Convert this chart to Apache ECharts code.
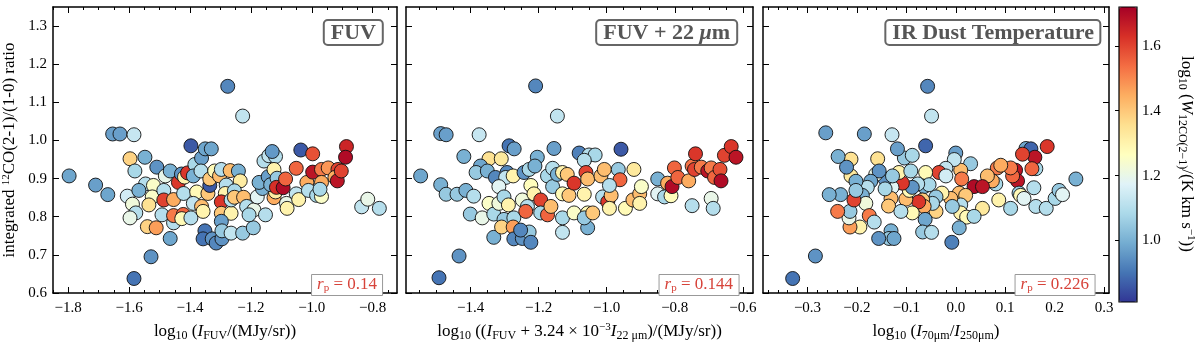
<!DOCTYPE html>
<html>
<head>
<meta charset="utf-8">
<script src="https://cdn.jsdelivr.net/npm/echarts@6/dist/echarts.min.js"></script>
<style>
html, body { margin:0; padding:0; background:#fff; }
#chart { width:1200px; height:347px; }
</style>
</head>
<body>
<div id="chart"></div>
<script>
// points: [x, CO ratio, log10 W(CO 2-1)]
var fuvPts = [
[-1.797,0.907,0.98],[-1.71,0.883,0.97],[-1.67,0.858,0.98],[-1.654,1.017,0.97],[-1.63,1.017,0.97],[-1.584,1.015,1.13],[-1.397,0.986,0.86],[-1.276,1.142,0.93],[-1.227,1.064,1.12],[-1.584,0.638,0.90],[-1.528,0.695,0.95],[-1.465,0.743,0.98],[-0.836,0.826,1.12],[-0.816,0.846,1.2],[-0.778,0.822,1.1],[-1.036,0.975,0.86],[-0.997,0.965,1.58],[-0.886,0.984,1.65],[-0.889,0.956,1.7],
[-1.597,0.952,1.38],[-1.548,0.956,1.0],[-1.581,0.920,1.08],[-1.509,0.930,0.95],[-1.606,0.854,1.15],[-1.589,0.833,1.22],[-1.578,0.810,1.1],[-1.597,0.797,1.2],[-1.546,0.886,1.1],[-1.568,0.869,1.0],[-1.520,0.882,1.25],[-1.524,0.852,1.25],[-1.535,0.831,1.35],[-1.54,0.774,1.38],[-1.511,0.771,1.47],[-1.481,0.907,1.2],[-1.486,0.869,1.1],[-1.486,0.844,1.6],[-1.454,0.845,1.45],[-1.492,0.805,1.1],[-1.454,0.784,1.1],[-1.454,0.803,1.52],[-1.422,0.806,1.55],[-1.427,0.795,1.28],[-1.465,0.920,1.0],[-1.438,0.890,1.62],[-1.428,0.912,0.95],[-1.418,0.904,1.3],[-1.408,0.915,1.62],[-1.421,0.861,1.1],[-1.384,0.937,1.08],[-1.389,0.907,1.0],[-1.362,0.954,0.97],[-1.35,0.978,0.98],[-1.33,0.978,0.98],[-1.364,0.920,1.1],[-1.378,0.865,1.28],[-1.389,0.835,1.12],[-1.397,0.797,1.1],[-1.362,0.827,1.42],[-1.357,0.814,1.3],[-1.341,0.861,1.4],[-1.335,0.882,0.86],[-1.335,0.899,1.4],[-1.319,0.920,1.28],[-1.303,0.907,1.42],[-1.297,0.924,1.1],[-1.281,0.883,1.1],[-1.284,0.861,1.3],[-1.297,0.839,1.62],[-1.297,0.809,1.4],[-1.265,0.809,1.3],[-1.265,0.844,1.1],[-1.297,0.788,0.97],[-1.351,0.763,0.9],[-1.357,0.742,0.9],[-1.327,0.742,0.95],[-1.314,0.731,0.93],[-1.295,0.742,0.95],[-1.295,0.763,1.05],[-1.265,0.757,1.12],[-1.227,0.757,1.05],[-1.192,0.771,1.05],[-1.268,0.921,1.42],[-1.241,0.920,1.0],[-1.235,0.894,1.32],[-1.254,0.868,1.08],[-1.254,0.851,1.4],[-1.224,0.851,1.42],[-1.214,0.827,1.1],[-1.19,0.818,1.2],[-1.206,0.805,1.08],[-1.179,0.852,1.18],[-1.152,0.805,1.1],[-1.162,0.874,1.0],[-1.173,0.89,1.0],[-1.143,0.905,0.97],[-1.157,0.946,1.1],[-1.141,0.96,1.12],[-1.119,0.958,1.1],[-1.13,0.971,0.96],[-1.124,0.924,1.3],[-1.124,0.850,1.45],[-1.119,0.865,1.32],[-1.135,0.884,1.0],[-1.114,0.901,1.05],[-1.116,0.877,1.63],[-1.094,0.876,1.7],[-1.086,0.899,1.55],[-1.083,0.835,1.2],[-1.081,0.822,1.3],[-1.051,0.927,1.55],[-1.051,0.860,1.12],[-1.043,0.845,1.3],[-1.016,0.890,1.45],[-1.011,0.869,1.1],[-0.984,0.856,1.08],[-0.997,0.917,1.68],[-0.968,0.924,1.52],[-0.968,0.890,1.45],[-0.968,0.853,1.25],[-0.946,0.928,1.48],[-0.973,0.872,1.08],[-0.914,0.924,1.6],[-0.924,0.903,1.45],[-0.916,0.894,1.68],[-0.903,0.920,1.6]
];
var fuv22Pts = [
[-1.547,0.907,0.98],[-1.488,1.018,0.97],[-1.472,1.015,0.97],[-1.375,1.015,1.13],[-1.209,1.143,0.93],[-1.145,1.064,1.12],[-1.493,0.640,0.9],[-1.434,0.697,0.95],[-0.958,0.977,0.86],[-1.287,0.986,0.9],[-1.272,0.978,0.97],[-1.155,0.979,0.97],[-1.081,0.967,0.92],[-1.052,0.962,1.1],[-1.034,0.962,1.08],[-1.066,0.948,1.1],[-1.420,0.958,1.0],[-1.346,0.952,1.35],[-1.310,0.952,1.33],[-1.204,0.956,1.0],[-1.371,0.933,0.98],[-1.384,0.916,1.05],[-1.351,0.920,1.0],[-1.327,0.903,0.93],[-1.293,0.916,0.93],[-1.297,0.903,1.12],[-1.275,0.907,1.3],[-1.243,0.916,0.95],[-1.228,0.924,1.08],[-1.211,0.933,1.0],
[-1.488,0.884,1.0],[-1.472,0.859,1.05],[-1.440,0.859,1.05],[-1.414,0.869,1.0],[-1.391,0.854,1.1],[-1.401,0.807,1.05],[-1.366,0.797,1.2],[-1.346,0.835,1.25],[-1.332,0.807,1.08],[-1.332,0.746,1.0],[-1.317,0.835,1.22],[-1.317,0.879,1.18],[-1.302,0.852,1.08],[-1.289,0.831,1.3],[-1.302,0.793,1.05],[-1.309,0.773,1.38],[-1.273,0.797,1.08],[-1.275,0.773,1.47],[-1.273,0.742,0.93],[-1.248,0.743,0.95],[-1.228,0.760,1.05],[-1.223,0.733,0.93],[-1.253,0.765,0.93],[-1.248,0.844,1.22],[-1.233,0.827,1.1],[-1.238,0.814,1.55],[-1.223,0.882,1.27],[-1.214,0.860,1.3],[-1.194,0.844,1.6],[-1.194,0.810,1.08],[-1.174,0.805,1.55],[-1.164,0.827,1.42],[-1.174,0.907,1.08],[-1.159,0.879,1.05],[-1.159,0.927,1.1],[-1.145,0.911,1.0],[-1.130,0.916,1.3],[-1.116,0.911,1.4],[-1.130,0.860,1.28],[-1.111,0.856,1.4],[-1.130,0.759,1.12],[-1.130,0.797,1.08],[-1.096,0.888,1.62],[-1.096,0.810,1.25],[-1.066,0.859,1.3],[-1.056,0.810,1.28],[-1.056,0.771,1.0],[-1.066,0.797,1.05],[-1.061,0.916,1.6],[-1.056,0.899,1.42],[-1.041,0.810,1.4],[-1.017,0.907,1.42],[-1.012,0.852,1.1],[-1.007,0.924,1.42],[-0.997,0.839,1.62],[-0.987,0.856,1.42],[-0.992,0.822,1.3],[-0.966,0.924,1.05],[-0.961,0.897,1.55],[-0.992,0.882,1.1],[-0.945,0.822,1.28],[-0.920,0.924,1.33],[-0.923,0.844,1.42],[-0.903,0.860,1.42],[-0.898,0.879,1.25],[-0.903,0.835,1.3],
[-0.850,0.899,1.0],[-0.850,0.860,1.18],[-0.830,0.852,1.08],[-0.811,0.855,1.27],[-0.821,0.888,1.45],[-0.808,0.879,1.7],[-0.801,0.928,1.55],[-0.791,0.903,1.55],[-0.759,0.894,1.45],[-0.749,0.933,1.53],[-0.739,0.965,1.62],[-0.742,0.924,1.6],[-0.722,0.930,1.52],[-0.703,0.920,1.68],[-0.693,0.928,1.52],[-0.683,0.903,1.55],[-0.667,0.924,1.58],[-0.664,0.894,1.7],[-0.693,0.848,1.2],[-0.687,0.822,1.1],[-0.749,0.829,1.1],[-0.654,0.961,1.6],[-0.634,0.984,1.62],[-0.620,0.956,1.68]
];
var tdustPts = [
[-0.330,0.638,0.9],[-0.284,0.697,0.95],[-0.263,1.020,0.97],[-0.185,1.017,0.97],[-0.129,1.015,1.13],[-0.057,1.142,0.93],[-0.049,1.064,1.12],[-0.061,0.986,0.88],[-0.008,0.733,0.92],[0.243,0.899,1.0],[0.142,0.979,0.98],[0.152,0.978,0.88],[0.162,0.926,1.08],[0.185,0.984,1.62],[0.160,0.956,1.68],[0.135,0.964,1.6],[0.154,0.926,1.55],[0.121,0.922,1.68],[0.125,0.894,1.68],[0.115,0.907,1.55],[0.111,0.928,1.52],[0.084,0.928,1.52],[0.091,0.935,1.45],[0.081,0.886,1.08],[0.074,0.894,1.45],[0.064,0.907,1.42],[0.037,0.879,1.7],[0.054,0.879,1.68],[0.087,0.844,1.3],[0.111,0.822,1.08],[0.128,0.862,1.05],[0.131,0.856,1.28],[0.138,0.848,1.18],[0.158,0.876,1.1],[0.162,0.827,1.1],[0.183,0.822,1.1],[0.201,0.848,1.08],[0.209,0.869,1.05],[0.216,0.858,1.18],[0.054,0.822,1.33],
[0.030,0.939,1.05],[0.010,0.922,1.42],[0.012,0.899,1.52],[0.0,0.967,0.97],[-0.003,0.950,1.12],[-0.020,0.927,1.12],[-0.034,0.916,1.6],[-0.020,0.907,1.15],[0.007,0.862,1.42],[0.020,0.856,1.4],[0.010,0.831,1.1],[0.010,0.810,1.3],[0.022,0.799,1.28],[0.037,0.801,1.08],[0.007,0.771,1.0],[-0.010,0.848,1.42],[-0.007,0.827,1.05],[-0.028,0.862,1.3],[-0.040,0.852,1.05],[-0.040,0.814,1.38],[-0.047,0.835,1.08],[-0.061,0.916,1.28],[-0.064,0.879,1.0],[-0.054,0.884,1.08],[-0.077,0.886,1.1],[-0.067,0.844,1.4],[-0.064,0.827,1.45],[-0.075,0.839,1.62],[-0.062,0.793,0.98],[-0.067,0.760,1.05],[-0.049,0.759,1.1],[-0.088,0.810,1.28],[-0.101,0.846,1.42],[-0.094,0.869,1.28],[-0.088,0.877,0.95],[-0.108,0.888,1.62],[-0.104,0.954,1.05],[-0.088,0.961,1.08],[-0.115,0.916,1.3],[-0.091,0.920,1.08],[-0.118,0.978,0.97],
[-0.129,0.877,1.18],[-0.131,0.848,1.42],[-0.136,0.828,1.4],[-0.143,0.899,0.95],[-0.143,0.873,1.08],[-0.128,0.907,1.05],[-0.111,0.814,1.1],[-0.131,0.763,1.0],[-0.135,0.743,1.05],[-0.125,0.743,0.98],[-0.156,0.743,0.95],[-0.158,0.952,1.35],[-0.162,0.911,1.2],[-0.155,0.920,0.95],[-0.172,0.893,0.98],[-0.179,0.877,1.1],[-0.189,0.856,1.0],[-0.182,0.835,1.22],[-0.175,0.803,1.52],[-0.165,0.786,1.1],[-0.194,0.773,1.3],[-0.214,0.773,1.47],[-0.216,0.797,1.2],[-0.214,0.814,1.05],[-0.206,0.844,1.6],[-0.212,0.907,1.33],[-0.212,0.951,1.35],[-0.221,0.930,0.95],[-0.202,0.893,1.0],[-0.202,0.869,1.05],[-0.233,0.858,1.0],[-0.256,0.858,1.0],[-0.238,0.958,1.0],[-0.239,0.814,1.52]
];

var yTicks = [0.6, 0.7, 0.8, 0.9, 1.0, 1.1, 1.2, 1.3];
var fuvTicks = [-1.8, -1.6, -1.4, -1.2, -1.0, -0.8];
var fuv22Ticks = [-1.4, -1.2, -1.0, -0.8, -0.6];
var tdustTicks = [-0.3, -0.2, -0.1, 0.0, 0.1, 0.2, 0.3];
var cbarTicks = [1.0, 1.2, 1.4, 1.6];
var panelTitles = ['FUV', 'FUV + 22 {mu|μ}m', 'IR Dust Temperature'];
var rpValues = ['0.14', '0.144', '0.226'];
var xRanges = [[-1.85, -0.72], [-1.59, -0.57], [-0.39, 0.31]];
var rdylbu = ['#313695','#4575b4','#74add1','#abd9e9','#e0f3f8','#ffffbf','#fee090','#fdae61','#f46d43','#d73027','#a50026'];

var serif = 'Liberation Serif';
var chart = echarts.init(document.getElementById('chart'));

function minorsFor(lo, hi, step){
	var out = [];
	var s = Math.ceil(lo / step - 1e-9);
	for(var k = s; k * step <= hi + 1e-9; k++){
		out.push(Math.round(k * step * 1000) / 1000);
	}
	return out;
}
function fmt(v){ return v.toFixed(1).replace('-', '\u2212'); }

var rich = {
	n:{fontFamily:serif, fontSize:17, color:'#000'},
	i:{fontFamily:serif, fontSize:17, fontStyle:'italic', color:'#000'},
	sub:{fontFamily:serif, fontSize:12, color:'#000', verticalAlign:'bottom', padding:[8,0,0,0]},
	sup:{fontFamily:serif, fontSize:11, color:'#000', verticalAlign:'top', padding:[0,0,7,0]}
};

var xNames = [
	'{n|log}{sub|10}{n| (}{i|I}{sub|FUV}{n|/(MJy/sr))}',
	'{n|log}{sub|10}{n| ((}{i|I}{sub|FUV}{n| + 3.24 × 10}{sup|\u22123}{i|I}{sub|22 μm}{n|)/(MJy/sr))}',
	'{n|log}{sub|10}{n| (}{i|I}{sub|70μm}{n|/}{i|I}{sub|250μm}{n|)}'
];
var xTickSets = [fuvTicks, fuv22Ticks, tdustTicks];
var minorStep = [0.05, 0.05, 0.02];
var gridLeft = [50, 406, 763];
var gridWidth = [347, 347, 346];

var grids = [], xAxes = [], yAxes = [], series = [], titles = [];
var ptsAll = [fuvPts, fuv22Pts, tdustPts];
var lineStyle = {color:'#000', width:1.5};

for(var g = 0; g < 3; g++){
	grids.push({left:gridLeft[g], top:7, width:gridWidth[g], height:295, show:false});
	var lo = xRanges[g][0], hi = xRanges[g][1];
	var minors = minorsFor(lo, hi, minorStep[g]);
	xAxes.push({
		gridIndex:g, type:'value', min:lo, max:hi, position:'bottom',
		axisLine:{show:true, onZero:false, lineStyle:lineStyle},
		axisTick:{inside:true, length:6, customValues:xTickSets[g], lineStyle:{color:'#000'}},
		axisLabel:{customValues:xTickSets[g], formatter:fmt, fontFamily:serif, fontSize:15, color:'#000', margin:8},
		splitLine:{show:false},
		name:xNames[g], nameLocation:'middle', nameGap:29,
		nameTextStyle:{rich:rich}
	});
	xAxes.push({
		gridIndex:g, type:'value', min:lo, max:hi, position:'bottom',
		axisLine:{show:false, onZero:false},
		axisTick:{inside:true, length:3, customValues:minors, lineStyle:{color:'#000'}},
		axisLabel:{show:false}, splitLine:{show:false}
	});
	xAxes.push({
		gridIndex:g, type:'value', min:lo, max:hi, position:'top',
		axisLine:{show:true, onZero:false, lineStyle:lineStyle},
		axisTick:{inside:true, length:6, customValues:xTickSets[g], lineStyle:{color:'#000'}},
		axisLabel:{show:false}, splitLine:{show:false}
	});
	xAxes.push({
		gridIndex:g, type:'value', min:lo, max:hi, position:'top',
		axisLine:{show:false, onZero:false},
		axisTick:{inside:true, length:3, customValues:minors, lineStyle:{color:'#000'}},
		axisLabel:{show:false}, splitLine:{show:false}
	});
	yAxes.push({
		gridIndex:g, type:'value', min:0.6, max:1.35, position:'left',
		axisLine:{show:true, onZero:false, lineStyle:lineStyle},
		axisTick:{inside:true, length:6, customValues:yTicks, lineStyle:{color:'#000'}},
		axisLabel:{show:g == 0, customValues:yTicks, formatter:fmt, fontFamily:serif, fontSize:15, color:'#000', margin:6},
		splitLine:{show:false},
		name: g == 0 ? '{n|integrated }{sup|12}{n|CO(2-1)/(1-0) ratio}' : '',
		nameLocation:'middle', nameGap:34, nameRotate:90,
		nameTextStyle:{rich:rich}
	});
	yAxes.push({
		gridIndex:g, type:'value', min:0.6, max:1.35, position:'right',
		axisLine:{show:true, onZero:false, lineStyle:lineStyle},
		axisTick:{inside:true, length:6, customValues:yTicks, lineStyle:{color:'#000'}},
		axisLabel:{show:false}, splitLine:{show:false}
	});
	series.push({
		type:'scatter', xAxisIndex:g * 4, yAxisIndex:g * 2,
		data:ptsAll[g], symbol:'circle', symbolSize:14,
		itemStyle:{borderColor:'#111', borderWidth:0.9, opacity:1},
		emphasis:{disabled:true}
	});
}

// title boxes and r_p boxes
var titleRight = [817, 463, 99];
var rpRight = [817, 461, 105];
var rpRed = '#d7433a';
for(var t = 0; t < 3; t++){
	titles.push({
		text:panelTitles[t], right:titleRight[t], top:20,
		borderColor:'#666', borderWidth:2, borderRadius:4, padding:[2,7,1,7],
		backgroundColor:'#fff',
		textStyle:{fontFamily:serif, fontWeight:'bold', fontSize:22, color:'#555',
			rich:{mu:{fontFamily:serif, fontWeight:'bold', fontStyle:'italic', fontSize:22, color:'#555'}}}
	});
	titles.push({
		text:'{i|r}{s|p}{n| = ' + rpValues[t] + '}', right:rpRight[t], top:274,
		borderColor:'#999', borderWidth:1, padding:[2,6,2,6], backgroundColor:'#fff',
		textStyle:{fontWeight:'normal', rich:{
			i:{fontFamily:serif, fontStyle:'italic', fontWeight:'normal', fontSize:17, color:rpRed},
			s:{fontFamily:serif, fontWeight:'normal', fontSize:11, color:rpRed, verticalAlign:'bottom', padding:[7,0,0,0]},
			n:{fontFamily:serif, fontWeight:'normal', fontSize:17, color:rpRed}
		}}
	});
}

// colourbar frame + ticks
grids.push({left:1119, top:7, width:18, height:295, show:true, borderColor:'#000', borderWidth:1.2, backgroundColor:'rgba(0,0,0,0)', z:10});
xAxes.push({gridIndex:3, type:'value', min:0, max:1, show:false});
yAxes.push({
	gridIndex:3, type:'value', min:0.81, max:1.72, position:'right',
	axisLine:{show:false},
	axisTick:{inside:true, length:4, customValues:cbarTicks, lineStyle:{color:'#000'}},
	axisLabel:{customValues:cbarTicks, formatter:fmt, fontFamily:serif, fontSize:15, color:'#000', margin:5},
	splitLine:{show:false}
});

chart.setOption({
	animation:false,
	backgroundColor:'#fff',
	title:titles,
	grid:grids,
	xAxis:xAxes,
	yAxis:yAxes,
	visualMap:{
		type:'continuous', min:0.81, max:1.72, dimension:2, seriesIndex:[0,1,2],
		inRange:{color:rdylbu}, calculable:false, hoverLink:false,
		left:1119, top:7, itemWidth:18, itemHeight:295, padding:0, text:null
	},
	graphic:[{
		type:'text', x:1186, y:154, rotation:-Math.PI / 2,
		style:{
			text:'{n|log}{sub|10}{n| (}{i|W}{sub|12CO(2−1)}{n|/(K km s}{sup|−1}{n|))}',
			align:'center', verticalAlign:'middle', rich:rich
		}
	}],
	series:series
});
</script>
</body>
</html>
